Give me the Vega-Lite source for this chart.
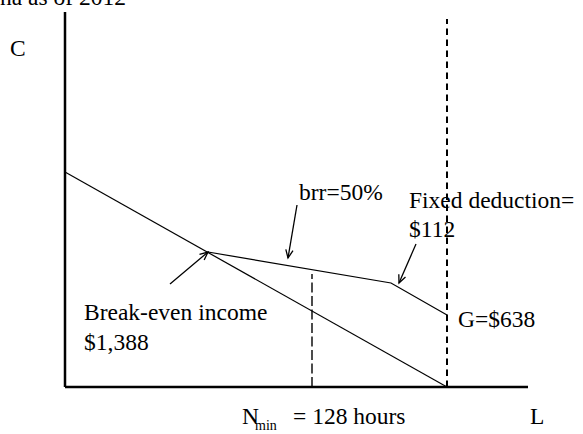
{
  "$schema": "https://vega.github.io/schema/vega-lite/v6.json",
  "width": 583,
  "height": 434,
  "autosize": "none",
  "padding": 0,
  "background": "white",
  "config": {"view": {"stroke": null}, "text": {"font": "Liberation Serif, Times New Roman, serif"}},
  "datasets": {
    "axes": [
      {"x": 0, "y": 0, "x2": 0, "y2": 375},
      {"x": 0, "y": 0, "x2": 463, "y2": 0}
    ],
    "budget": [
      {"series": "no welfare", "x": 0, "y": 215},
      {"series": "no welfare", "x": 382, "y": 0},
      {"series": "welfare", "x": 143, "y": 135},
      {"series": "welfare", "x": 326, "y": 104},
      {"series": "welfare", "x": 382, "y": 72}
    ],
    "dashTall": [{"x": 382, "y": 0, "y2": 368}],
    "dashShort": [{"x": 247, "y": 0, "y2": 113}],
    "arrows": [
      {"x": 105, "y": 103, "x2": 143, "y2": 135, "angle": 50},
      {"x": 232, "y": 182, "x2": 223, "y2": 129, "angle": 190},
      {"x": 351, "y": 143, "x2": 334, "y2": 104, "angle": 203}
    ],
    "labels": [
      {"x": -65, "y": 382, "text": "na as of 2012"},
      {"x": -55, "y": 331, "text": "C"},
      {"x": 234, "y": 187, "text": "brr=50%"},
      {"x": 344, "y": 179, "text": "Fixed deduction="},
      {"x": 344, "y": 150, "text": "$112"},
      {"x": 393, "y": 60, "text": "G=$638"},
      {"x": 19, "y": 67, "text": "Break-even income"},
      {"x": 19, "y": 37, "text": "$1,388"},
      {"x": 177, "y": -37, "text": "N"},
      {"x": 228, "y": -37, "text": "= 128 hours"},
      {"x": 465, "y": -37, "text": "L"}
    ],
    "subs": [
      {"x": 190, "y": -43, "text": "min"}
    ]
  },
  "resolve": {"scale": {"x": "shared", "y": "shared"}},
  "layer": [
    {
      "data": {"name": "axes"},
      "mark": {"type": "rule", "color": "black", "strokeWidth": 2.5},
      "encoding": {
        "x": {"field": "x", "type": "quantitative", "scale": {"domain": [-65, 518], "nice": false, "zero": false}, "axis": null},
        "y": {"field": "y", "type": "quantitative", "scale": {"domain": [-47, 387], "nice": false, "zero": false}, "axis": null},
        "x2": {"field": "x2"},
        "y2": {"field": "y2"}
      }
    },
    {
      "data": {"name": "budget"},
      "mark": {"type": "line", "color": "black", "strokeWidth": 1.2},
      "encoding": {
        "x": {"field": "x", "type": "quantitative", "axis": null},
        "y": {"field": "y", "type": "quantitative", "axis": null},
        "detail": {"field": "series"},
        "order": {"field": "x", "type": "quantitative"}
      }
    },
    {
      "data": {"name": "dashTall"},
      "mark": {"type": "rule", "color": "black", "strokeWidth": 2, "strokeDash": [6.5, 4.5]},
      "encoding": {
        "x": {"field": "x", "type": "quantitative", "axis": null},
        "y": {"field": "y", "type": "quantitative", "axis": null},
        "y2": {"field": "y2"}
      }
    },
    {
      "data": {"name": "dashShort"},
      "mark": {"type": "rule", "color": "black", "strokeWidth": 1.4, "strokeDash": [10, 3.5]},
      "encoding": {
        "x": {"field": "x", "type": "quantitative", "axis": null},
        "y": {"field": "y", "type": "quantitative", "axis": null},
        "y2": {"field": "y2"}
      }
    },
    {
      "data": {"name": "arrows"},
      "mark": {"type": "rule", "color": "black", "strokeWidth": 1.3},
      "encoding": {
        "x": {"field": "x", "type": "quantitative", "axis": null},
        "y": {"field": "y", "type": "quantitative", "axis": null},
        "x2": {"field": "x2"},
        "y2": {"field": "y2"}
      }
    },
    {
      "data": {"name": "arrows"},
      "mark": {"type": "point", "shape": "M -0.45 1 L 0 0 L 0.45 1", "filled": false, "color": "black", "strokeWidth": 1.3, "size": 260, "opacity": 1},
      "encoding": {
        "x": {"field": "x2", "type": "quantitative", "axis": null},
        "y": {"field": "y2", "type": "quantitative", "axis": null},
        "angle": {"field": "angle", "type": "quantitative", "scale": null}
      }
    },
    {
      "data": {"name": "labels"},
      "mark": {"type": "text", "font": "Liberation Serif", "fontSize": 23.5, "align": "left", "baseline": "alphabetic", "color": "black"},
      "encoding": {
        "x": {"field": "x", "type": "quantitative", "axis": null},
        "y": {"field": "y", "type": "quantitative", "axis": null},
        "text": {"field": "text"}
      }
    },
    {
      "data": {"name": "subs"},
      "mark": {"type": "text", "font": "Liberation Serif", "fontSize": 14, "align": "left", "baseline": "alphabetic", "color": "black"},
      "encoding": {
        "x": {"field": "x", "type": "quantitative", "axis": null},
        "y": {"field": "y", "type": "quantitative", "axis": null},
        "text": {"field": "text"}
      }
    }
  ]
}
